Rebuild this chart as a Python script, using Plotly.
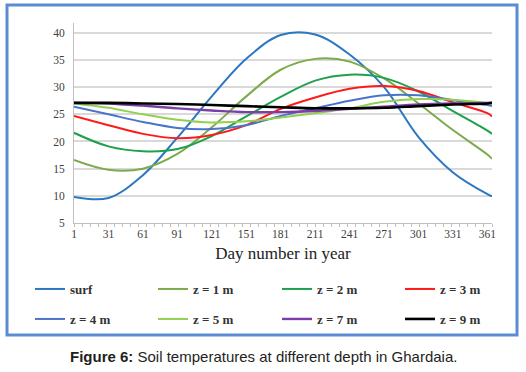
import plotly.graph_objects as go

days = [1, 31, 61, 91, 121, 151, 181, 211, 241, 271, 301, 331, 361, 365]
tick_days = [1, 31, 61, 91, 121, 151, 181, 211, 241, 271, 301, 331, 361]

surf = [9.8, 9.6, 13.8, 20.7, 28.3, 35.2, 39.6, 39.7, 36.0, 30.0, 20.8, 14.3, 10.3, 9.9]
z1 = [16.6, 14.8, 15.0, 17.7, 22.6, 28.3, 33.2, 35.2, 34.7, 31.6, 27.0, 22.1, 17.6, 16.8]
z2 = [21.6, 19.1, 18.2, 18.6, 21.0, 24.6, 28.2, 31.2, 32.3, 31.7, 29.2, 25.6, 22.0, 21.4]
z3 = [24.7, 23.0, 21.4, 20.6, 21.2, 23.0, 26.0, 28.1, 29.7, 30.2, 29.3, 27.2, 25.2, 24.6]
z4 = [26.4, 25.0, 23.6, 22.5, 22.3, 23.0, 24.7, 26.1, 27.5, 28.5, 28.5, 27.6, 26.7, 26.5]
z5 = [27.0, 26.2, 25.0, 24.0, 23.5, 23.7, 24.4, 25.2, 26.1, 27.3, 27.8, 27.7, 27.1, 27.0]
z7 = [27.1, 27.0, 26.6, 26.1, 25.7, 25.4, 25.4, 25.6, 26.0, 26.4, 26.8, 27.0, 27.1, 27.1]
z9 = [27.1, 27.1, 27.0, 26.9, 26.7, 26.5, 26.3, 26.1, 26.1, 26.2, 26.5, 26.8, 27.0, 27.1]

names = ["surf", "z = 1 m", "z = 2 m", "z = 3 m", "z = 4 m", "z = 5 m", "z = 7 m", "z = 9 m"]
series = [surf, z1, z2, z3, z4, z5, z7, z9]
colors = ["#2B78C2", "#7DAA4A", "#1EA04C", "#FF1A1A", "#4A74C8", "#92D050", "#7B3FA6", "#000000"]
widths = [2, 2, 2, 2, 2, 2, 2.4, 2.6]

W, H = 526, 372
ml, mr, mt, mb = 74, 34, 23, 149
pw = W - ml - mr
ph = H - mt - mb

def px_x(p):
    return (p - ml) / pw

def px_y(p):
    return (H - mb - p) / ph

serif = "Liberation Serif"
legfont = dict(family=serif, size=13, color="#333333", weight="bold")

# legend grid positions (pixels): 4 columns, 2 rows
col_px = [30, 153, 277, 400]
row_px = [289, 319]

fig = go.Figure()
legend_layouts = {}
for i, (n, s, c, w) in enumerate(zip(names, series, colors, widths)):
    lid = "legend" if i == 0 else f"legend{i + 1}"
    fig.add_trace(go.Scatter(x=days, y=s, mode="lines", name=n,
                             line=dict(color=c, width=w, shape="spline", smoothing=1.0),
                             legend=lid))
    legend_layouts[lid] = dict(
        xref="container", yref="container",
        x=col_px[i % 4] / W, xanchor="left",
        y=1 - row_px[i // 4] / H, yanchor="middle",
        orientation="h", itemwidth=30, font=legfont,
        bgcolor="rgba(0,0,0,0)", borderwidth=0)

fig.update_layout(
    width=W, height=H,
    margin=dict(l=ml, r=mr, t=mt, b=mb),
    paper_bgcolor="white", plot_bgcolor="white",
    showlegend=True,
    xaxis=dict(range=[1, 365], tickmode="array", tickvals=tick_days,
               ticktext=[str(d) for d in tick_days], automargin=False,
               showgrid=False, zeroline=False, showline=True, linecolor="#BFBFBF", linewidth=1,
               ticks="",
               minor=dict(ticks="outside", tick0=1, dtick=7, ticklen=3, tickcolor="#BFBFBF",
                          showgrid=False),
               tickfont=dict(family=serif, size=11.5, color="#404040"),
               title=dict(text="Day number in year", font=dict(family=serif, size=17, color="#222222"),
                          standoff=8)),
    yaxis=dict(range=[5, 41.8], tickmode="array", tickvals=[5, 10, 15, 20, 25, 30, 35, 40],
               showgrid=True, gridcolor="#D9D9D9", gridwidth=1.5, zeroline=False, automargin=False,
               showline=True, linecolor="#BFBFBF", linewidth=1, ticks="",
               tickfont=dict(family=serif, size=11.5, color="#404040"), ticklabelstandoff=6),
    shapes=[dict(type="rect", xref="paper", yref="paper",
                 x0=px_x(7), x1=px_x(517), y0=px_y(335), y1=px_y(5),
                 line=dict(color="#5B8BD3", width=3), fillcolor="rgba(0,0,0,0)", layer="below")],
    annotations=[dict(xref="paper", yref="paper", x=px_x(263), y=px_y(356),
                      xanchor="center", yanchor="middle", showarrow=False,
                      text="<b>Figure 6:</b> Soil temperatures at different depth in Ghardaia.",
                      font=dict(family="Liberation Sans", size=15, color="#231F20"))],
    **legend_layouts,
)

fig.write_html("out.html", config={"displayModeBar": False},
               post_script="document.body.style.margin='0';document.body.style.overflow='hidden';")
